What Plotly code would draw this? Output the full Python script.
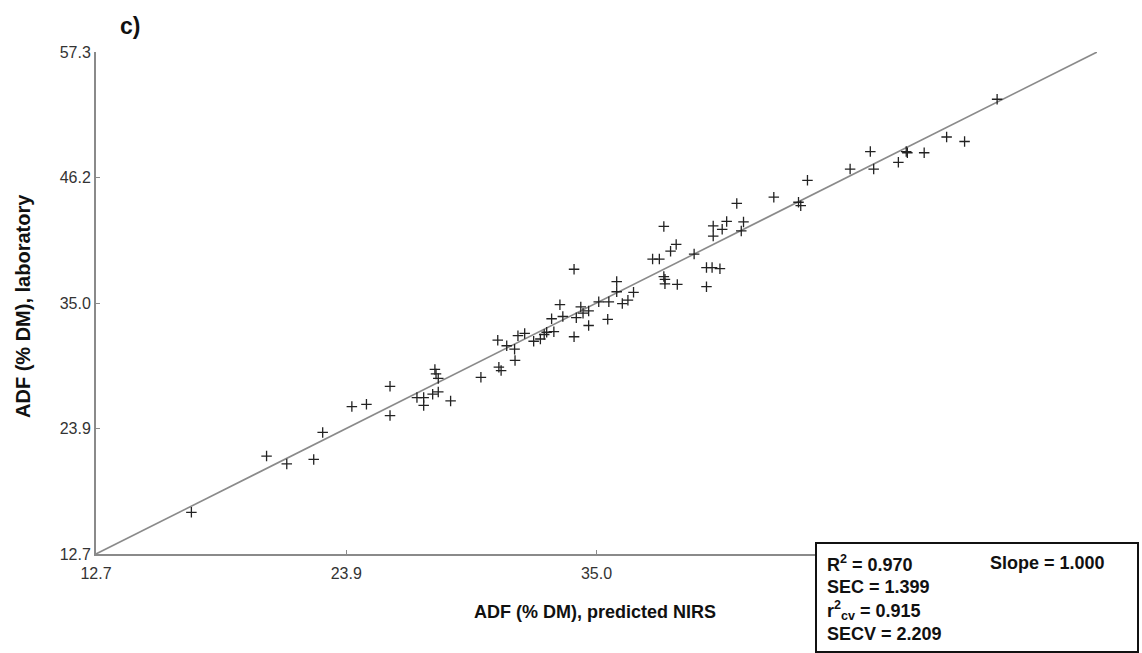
import plotly.graph_objects as go

predicted = [16.95, 20.3, 21.2, 22.4, 22.8, 24.1, 24.75, 25.8, 25.8, 27.0, 27.3, 27.3, 27.7, 27.95,
             27.8, 27.85, 27.95, 28.5, 29.85, 30.65, 30.75, 30.6, 31.0, 31.35, 31.37, 31.5, 31.8,
             32.2, 32.5, 32.67, 32.78, 33.1, 33.0, 33.37, 33.5, 34.0, 34.0, 34.1, 34.3, 34.4, 34.65,
             34.65, 35.1, 35.5, 35.55, 35.9, 35.9, 36.15, 36.4, 36.65, 37.5, 37.8, 38.0, 38.0, 38.05,
             38.05, 38.3, 38.55, 38.6, 39.35, 39.9, 40.15, 40.5, 39.9, 40.2, 40.6, 40.8, 40.2, 41.25,
             41.55, 41.45, 42.9, 44.0, 44.1, 44.4, 46.3, 47.2, 47.35, 48.45, 48.8, 48.85, 49.6, 50.6,
             51.4, 52.85]
laboratory = [16.4, 21.4, 20.7, 21.1, 23.5, 25.8, 26.0, 25.0, 27.6, 26.6, 26.6, 25.9, 26.9, 27.1,
              29.1, 28.7, 28.3, 26.3, 28.4, 29.3, 29.0, 31.7, 31.2, 30.9, 29.9, 32.1, 32.3,
              31.6, 31.8, 32.2, 32.4, 32.45, 33.6, 34.85, 33.8, 38.0, 32.0, 33.7, 34.65, 34.1, 34.3,
              33.0, 35.1, 33.55, 35.1, 36.9, 36.0, 34.95, 35.25, 35.95, 38.9, 38.9, 41.8, 37.35, 37.1,
              36.7, 39.6, 40.2, 36.65, 39.35, 38.15, 38.15, 38.05, 36.45, 41.85, 41.55, 42.25, 40.95, 43.85,
              42.2, 41.4, 44.4, 43.95, 43.65, 45.9, 46.9, 48.45, 46.9, 47.5, 48.45, 48.35, 48.35, 49.75,
              49.35, 53.1]

axis_min, axis_max = 12.7, 57.3
tick_vals = [12.7, 23.85, 35.0, 46.15, 57.3]
tick_text = ["12.7", "23.9", "35.0", "46.2", "57.3"]

x_title = "ADF (% DM), predicted NIRS"
y_title = "ADF (% DM), laboratory"
stats_lines = ["R<sup>2</sup> = 0.970", "SEC = 1.399", "r<sup>2</sup><sub>cv</sub> = 0.915", "SECV = 2.209"]
slope_text = "Slope = 1.000"

W, H = 1142, 653
L, R, T, B = 96, 45, 52, 99
pw, ph = W - L - R, H - T - B

def px(x):
    return (x - L) / pw

def py(y):
    return (H - B - y) / ph

tick_font = dict(family="Liberation Sans Narrow, Liberation Sans, Arial", size=16, color="#333")
bold_font = "Liberation Sans, Arial"

fig = go.Figure()
fig.add_trace(go.Scatter(x=[axis_min, axis_max], y=[axis_min, axis_max], mode="lines",
                         line=dict(color="#8a8a8a", width=1.6), showlegend=False, hoverinfo="skip"))
fig.add_trace(go.Scatter(x=predicted, y=laboratory, mode="markers",
                         marker=dict(symbol="cross-thin", size=7.5, line=dict(color="#222", width=1.3)),
                         showlegend=False, cliponaxis=False))

axis_common = dict(range=[axis_min, axis_max], tickvals=tick_vals, ticktext=tick_text,
                   showgrid=False, zeroline=False, showline=True, linecolor="#8a8a8a", linewidth=2,
                   ticks="inside", ticklen=4, tickcolor="#8a8a8a", tickfont=tick_font)

fig.update_xaxes(**axis_common, ticklabelstandoff=4)
fig.update_yaxes(**axis_common)

fig.add_annotation(xref="paper", yref="paper", x=px(595), y=py(612), text="<b>" + x_title + "</b>",
                   showarrow=False, xanchor="center", yanchor="middle",
                   font=dict(family=bold_font, size=18, color="#111"))
fig.add_annotation(xref="paper", yref="paper", x=px(23), y=py(306), text="<b>" + y_title + "</b>",
                   showarrow=False, xanchor="center", yanchor="middle", textangle=-90,
                   font=dict(family=bold_font, size=20, color="#111"))

# stats box
fig.add_shape(type="rect", xref="paper", yref="paper", x0=px(816), x1=px(1138), y0=py(652), y1=py(543),
              line=dict(color="#111", width=2), fillcolor="white", layer="above")
for i, txt in enumerate(stats_lines):
    fig.add_annotation(xref="paper", yref="paper", x=px(825), y=py(563 + i * 23.5), text="<b>" + txt + "</b>",
                       showarrow=False, xanchor="left", yanchor="middle",
                       font=dict(family=bold_font, size=18, color="#111"))
fig.add_annotation(xref="paper", yref="paper", x=px(988), y=py(563), text="<b>" + slope_text + "</b>",
                   showarrow=False, xanchor="left", yanchor="middle",
                   font=dict(family=bold_font, size=18, color="#111"))

fig.add_annotation(xref="paper", yref="paper", x=px(118), y=py(26), text="<b>c)</b>", showarrow=False,
                   xanchor="left", yanchor="middle", font=dict(family=bold_font, size=23, color="#111"))

fig.update_layout(width=W, height=H, margin=dict(l=L, r=R, t=T, b=B),
                  plot_bgcolor="white", paper_bgcolor="white")

fig.write_html("out.html")
